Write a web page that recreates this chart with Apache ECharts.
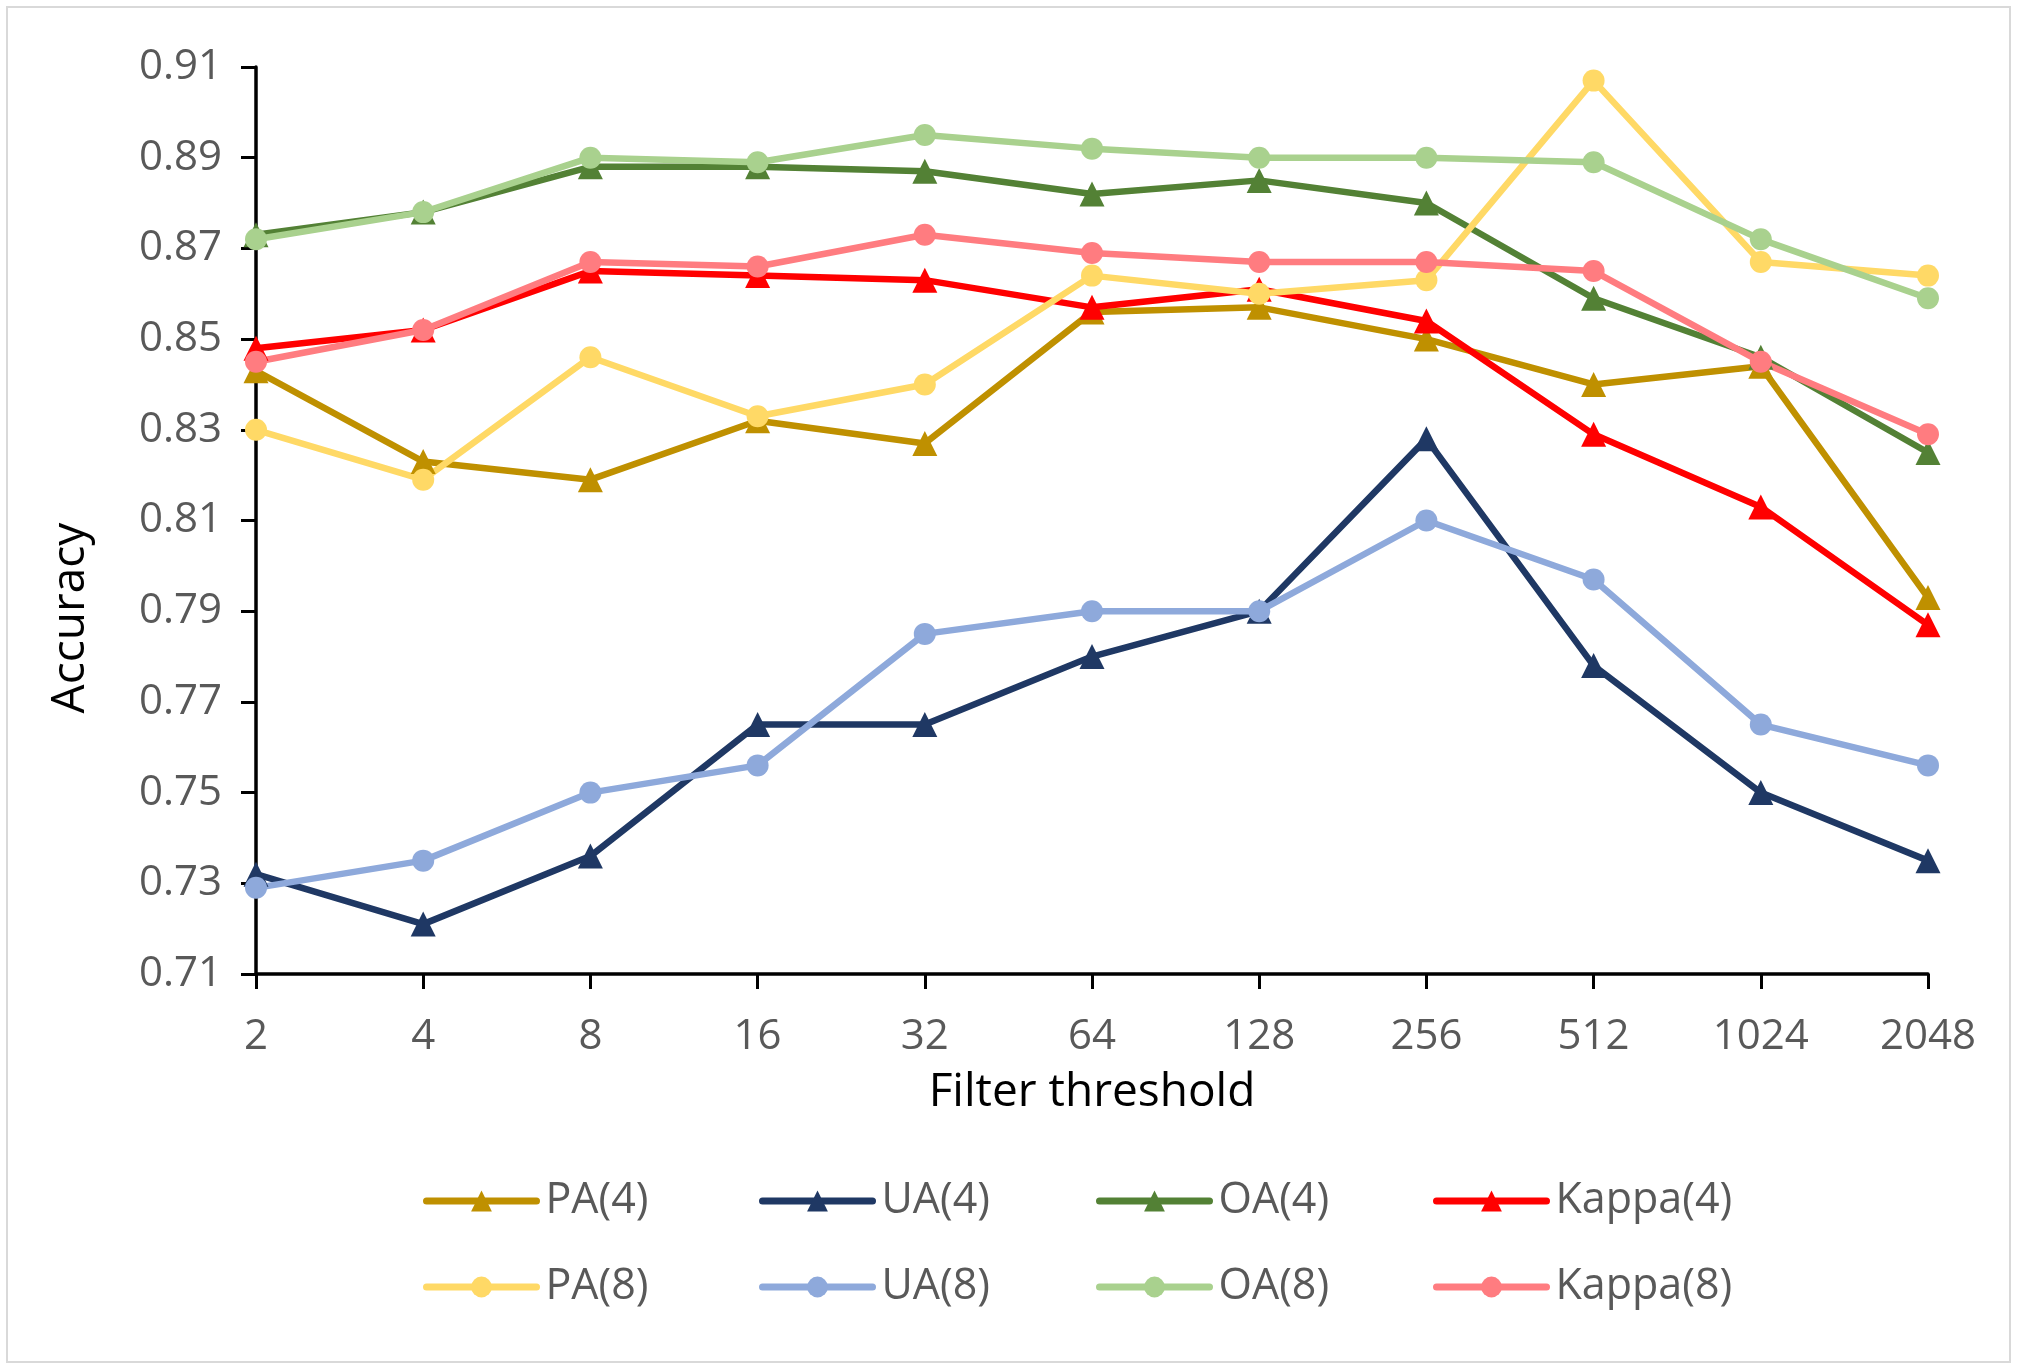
<!DOCTYPE html>
<html>
<head>
<meta charset="utf-8">
<script src="https://cdn.jsdelivr.net/npm/echarts@6/dist/echarts.min.js"></script>
<style>html,body{margin:0;padding:0;background:#fff}#c{width:2018px;height:1371px}</style>
</head>
<body>
<div id="c"></div>
<script>
const categories = ['2','4','8','16','32','64','128','256','512','1024','2048'];
const yTicks = [0.71,0.73,0.75,0.77,0.79,0.81,0.83,0.85,0.87,0.89,0.91];
const PA4    = [0.843,0.823,0.819,0.832,0.827,0.856,0.857,0.850,0.840,0.844,0.793];
const UA4    = [0.732,0.721,0.736,0.765,0.765,0.780,0.790,0.828,0.778,0.750,0.735];
const OA4    = [0.873,0.878,0.888,0.888,0.887,0.882,0.885,0.880,0.859,0.846,0.825];
const Kappa4 = [0.848,0.852,0.865,0.864,0.863,0.857,0.861,0.854,0.829,0.813,0.787];
const PA8    = [0.830,0.819,0.846,0.833,0.840,0.864,0.860,0.863,0.907,0.867,0.864];
const UA8    = [0.729,0.735,0.750,0.756,0.785,0.790,0.790,0.810,0.797,0.765,0.756];
const OA8    = [0.872,0.878,0.890,0.889,0.895,0.892,0.890,0.890,0.889,0.872,0.859];
const Kappa8 = [0.845,0.852,0.867,0.866,0.873,0.869,0.867,0.867,0.865,0.845,0.829];

const seriesDefs = [
  {name:'PA(4)', data:PA4, color:'#BF9000', symbol:'triangle'},
  {name:'UA(4)', data:UA4, color:'#1F3864', symbol:'triangle'},
  {name:'OA(4)', data:OA4, color:'#538135', symbol:'triangle'},
  {name:'Kappa(4)', data:Kappa4, color:'#FF0000', symbol:'triangle'},
  {name:'PA(8)', data:PA8, color:'#FFD966', symbol:'circle'},
  {name:'UA(8)', data:UA8, color:'#8EA9DB', symbol:'circle'},
  {name:'OA(8)', data:OA8, color:'#A9D18E', symbol:'circle'},
  {name:'Kappa(8)', data:Kappa8, color:'#FF7C80', symbol:'circle'}
];

const FONT = '"Open Sans", "Noto Sans", sans-serif';
const legendCols = [418, 754, 1091, 1428];
const legendRows = [1174, 1260];

const chart = echarts.init(document.getElementById('c'));
chart.setOption({
  backgroundColor:'#fff',
  animation:false,
  textStyle:{fontFamily:FONT},
  graphic:[
    {type:'rect', shape:{x:7,y:7,width:2003,height:1355}, style:{fill:'none', stroke:'#d9d9d9', lineWidth:2}, z:-1},
    {type:'text', x:71, y:618, rotation:Math.PI/2, style:{text:'Accuracy', fontSize:46, fontFamily:FONT, fill:'#000', align:'center', verticalAlign:'middle'}}
  ],
  grid:{left:256, right:90, top:67, bottom:397, containLabel:false},
  legend: seriesDefs.map((s,i)=>({
    data:[s.name],
    left: legendCols[i%4],
    top: legendRows[Math.floor(i/4)],
    itemWidth:110, itemHeight:26, itemGap:0,
    lineStyle:{width:7, cap:'round'},
    textStyle:{fontSize:43, lineHeight:44, color:'#595959', fontFamily:FONT, padding:[0,0,0,4]},
    selectedMode:false
  })),
  xAxis:{
    type:'category', data:categories, boundaryGap:false,
    name:'Filter threshold', nameLocation:'middle', nameGap:96,
    nameTextStyle:{fontSize:46, color:'#000', fontFamily:FONT},
    axisLine:{lineStyle:{color:'#000', width:3.5}},
    axisTick:{show:true, length:15, lineStyle:{color:'#000', width:3}, alignWithLabel:true},
    axisLabel:{fontSize:42, color:'#595959', margin:42, fontFamily:FONT},
    splitLine:{show:false}
  },
  yAxis:{
    type:'value', min:0.71, max:0.91, interval:0.02,
    axisLine:{show:true, lineStyle:{color:'#000', width:3.5}},
    axisTick:{show:true, length:15, lineStyle:{color:'#000', width:3}},
    axisLabel:{fontSize:42, color:'#595959', margin:34, fontFamily:FONT, formatter:v=>v.toFixed(2)},
    splitLine:{show:false}
  },
  series: seriesDefs.map(s=>({
    name:s.name, type:'line', data:s.data,
    symbol:s.symbol, symbolSize: s.symbol==='triangle'?25:22,
    showAllSymbol:true,
    lineStyle:{color:s.color, width:6.5, cap:'round', join:'round'},
    itemStyle:{color:s.color},
    emphasis:{disabled:true}
  }))
});
</script>
</body>
</html>
